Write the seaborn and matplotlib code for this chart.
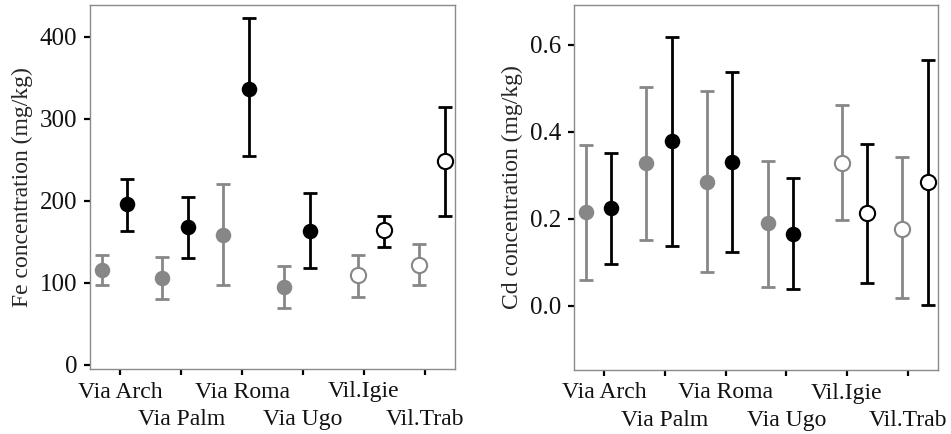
import numpy as np
import pandas as pd
import matplotlib
matplotlib.use("Agg")
import matplotlib.pyplot as plt
import seaborn as sns

# sites and sampling groups
sites = ["Via Arch", "Via Palm", "Via Roma", "Via Ugo", "Vil.Igie", "Vil.Trab"]
hollow = [False, False, False, False, True, True]

# Fe (mg/kg): gray group and black group, mean / lower / upper
fe_gray_mean = [116, 106, 158, 95, 110, 122]
fe_gray_low = [97, 80, 97, 69, 83, 97]
fe_gray_high = [134, 132, 221, 121, 134, 148]
fe_black_mean = [196, 168, 337, 163, 164, 249]
fe_black_low = [163, 131, 255, 118, 144, 182]
fe_black_high = [227, 205, 423, 210, 182, 314]

# Cd (mg/kg)
cd_gray_mean = [0.215, 0.329, 0.285, 0.190, 0.329, 0.177]
cd_gray_low = [0.058, 0.151, 0.078, 0.044, 0.197, 0.018]
cd_gray_high = [0.369, 0.504, 0.494, 0.333, 0.463, 0.342]
cd_black_mean = [0.224, 0.379, 0.331, 0.164, 0.213, 0.285]
cd_black_low = [0.096, 0.138, 0.124, 0.038, 0.052, 0.002]
cd_black_high = [0.351, 0.618, 0.538, 0.294, 0.372, 0.566]

GRAY = "#878787"
BLACK = "#000000"


def make_frame(gm, gl, gh, bm, bl, bh):
    rows = []
    for i, s in enumerate(sites):
        shift = 0.12 if hollow[i] else -0.10
        rows.append(dict(site=s, pos=i + shift - 0.21, mean=gm[i], low=gl[i],
                         high=gh[i], group="gray", hollow=hollow[i]))
        rows.append(dict(site=s, pos=i + shift + 0.21, mean=bm[i], low=bl[i],
                         high=bh[i], group="black", hollow=hollow[i]))
    return pd.DataFrame(rows)


fe = make_frame(fe_gray_mean, fe_gray_low, fe_gray_high,
                fe_black_mean, fe_black_low, fe_black_high)
cd = make_frame(cd_gray_mean, cd_gray_low, cd_gray_high,
                cd_black_mean, cd_black_low, cd_black_high)

sns.set_theme(style="white")
plt.rcParams["font.family"] = ["Liberation Serif", "DejaVu Serif"]

fig = plt.figure(figsize=(9.51, 4.34), dpi=100)
ax1 = fig.add_axes([90 / 951, 65 / 434, 365 / 951, 364 / 434])
ax2 = fig.add_axes([574 / 951, 64 / 434, 364 / 951, 365 / 434])

LABEL_SIZE = 17


def draw(ax, df, ylim, yticks, ylabel, yfmt):
    colors = {"gray": GRAY, "black": BLACK}
    for g, c in colors.items():
        sub = df[df["group"] == g]
        ax.errorbar(sub["pos"], sub["mean"],
                    yerr=[sub["mean"] - sub["low"], sub["high"] - sub["mean"]],
                    fmt="none", ecolor=c, elinewidth=2, capsize=4.7,
                    capthick=2, zorder=2)
        filled = sub[~sub["hollow"]]
        empty = sub[sub["hollow"]]
        sns.scatterplot(data=filled, x="pos", y="mean", ax=ax, color=c,
                        s=125, edgecolor=c, linewidth=0, zorder=3,
                        legend=False)
        ax.scatter(empty["pos"], empty["mean"], s=120, facecolors="white",
                   edgecolors=c, linewidths=1.5, zorder=3)
    ax.set_xlim(-0.5, 5.5)
    ax.set_ylim(*ylim)
    ax.set_yticks(yticks)
    ax.set_yticklabels([yfmt.format(v) for v in yticks])
    # staggered site labels: even on major ticks, odd on minor ticks
    ax.set_xticks(range(0, len(sites), 2))
    ax.set_xticklabels(sites[0::2])
    ax.set_xticks(range(1, len(sites), 2), minor=True)
    ax.set_xticklabels(sites[1::2], minor=True)
    ax.set_xlabel("")
    ax.set_ylabel(ylabel, fontsize=LABEL_SIZE, labelpad=5)
    ax.tick_params(axis="both", which="both", direction="out", length=4,
                   width=1.6, color="black", labelsize=LABEL_SIZE,
                   left=True, bottom=True, labelcolor="#111111")
    ax.tick_params(axis="x", which="major", pad=5)
    ax.tick_params(axis="x", which="minor", pad=25)
    ax.tick_params(axis="y", which="major", pad=5, labelsize=18)
    ax.tick_params(axis="y", which="minor", left=False)
    for sp in ax.spines.values():
        sp.set_color("#8a8a8a")
        sp.set_linewidth(1.0)


draw(ax1, fe, (-5, 439), [0, 100, 200, 300, 400],
     "Fe concentration (mg/kg)", "{:.0f}")
draw(ax2, cd, (-0.148, 0.692), [0.0, 0.2, 0.4, 0.6],
     "Cd concentration (mg/kg)", "{:.1f}")

fig.savefig("out.png", dpi=100)
plt.close(fig)
